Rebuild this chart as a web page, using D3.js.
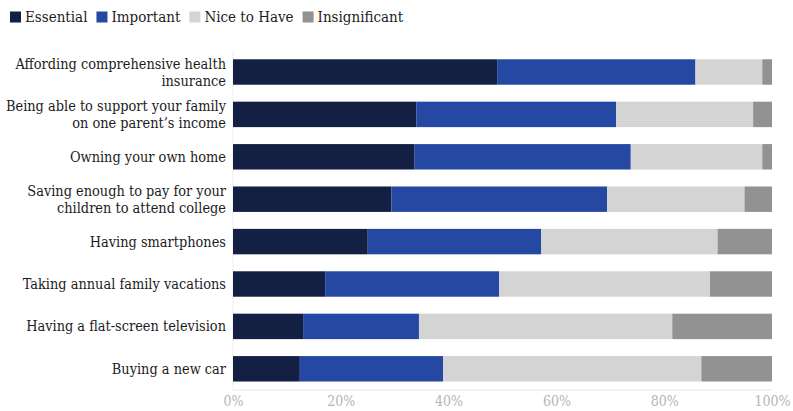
<!DOCTYPE html>
<html>
<head>
<meta charset="utf-8">
<script src="https://cdn.jsdelivr.net/npm/d3@7"></script>
<style>
  html, body { margin: 0; padding: 0; background: #ffffff; }
  svg { display: block; font-family: "DejaVu Serif Condensed", "DejaVu Serif", serif; font-stretch: condensed; }
</style>
</head>
<body>
<svg id="chart" width="793" height="411"></svg>
<script>
// Survey items, top to bottom (label lines split for wrapping)
const categories = [
  ["Affording comprehensive health", "insurance"],
  ["Being able to support your family", "on one parent\u2019s income"],
  ["Owning your own home"],
  ["Saving enough to pay for your", "children to attend college"],
  ["Having smartphones"],
  ["Taking annual family vacations"],
  ["Having a flat-screen television"],
  ["Buying a new car"]
];

const seriesNames = ["Essential", "Important", "Nice to Have", "Insignificant"];
const seriesColors = ["#132044", "#2549a3", "#d4d4d4", "#929292"];

// Share of respondents (%) per rating
const essential     = [49.0, 34.0, 33.7, 29.4, 25.0, 17.1, 13.0, 12.4];
const important     = [36.8, 37.1, 40.1, 40.0, 32.2, 32.3, 21.5, 26.6];
const niceToHave    = [12.4, 25.4, 24.4, 25.5, 32.7, 39.1, 47.0, 47.9];
const insignificant = [ 1.8,  3.5,  1.8,  5.1, 10.1, 11.5, 18.5, 13.1];

const tickValues = [0, 20, 40, 60, 80, 100];

const rows = categories.map((c, i) => ({
  key: i,
  label: c,
  "Essential": essential[i],
  "Important": important[i],
  "Nice to Have": niceToHave[i],
  "Insignificant": insignificant[i]
}));

const svg = d3.select("#chart");
const plotLeft = 233, plotRight = 772, plotTop = 50.8, plotBottom = 390;

const x = d3.scaleLinear().domain([0, 100]).range([plotLeft, plotRight]);
const y = d3.scaleBand().domain(rows.map(d => d.key)).range([plotTop, plotBottom])
  .paddingInner(0.4).paddingOuter(0.2);
const color = d3.scaleOrdinal().domain(seriesNames).range(seriesColors);

const stacked = d3.stack().keys(seriesNames)(rows);

// faint frame lines along the axis
svg.append("line")
  .attr("x1", x(0)).attr("x2", x(100))
  .attr("y1", plotBottom).attr("y2", plotBottom)
  .attr("stroke", "#e8e8e8").attr("stroke-width", 1);
svg.append("line")
  .attr("x1", x(0)).attr("x2", x(0))
  .attr("y1", plotTop).attr("y2", plotBottom)
  .attr("stroke", "#eeeeee").attr("stroke-width", 1);

// stacked bars
svg.append("g").selectAll("g")
  .data(stacked)
  .join("g")
  .attr("fill", d => color(d.key))
  .selectAll("rect")
  .data(d => d)
  .join("rect")
  .attr("x", d => x(d[0]))
  .attr("width", d => x(d[1]) - x(d[0]))
  .attr("y", d => y(d.data.key))
  .attr("height", y.bandwidth());

// x axis
const xAxis = svg.append("g")
  .attr("transform", `translate(0,${plotBottom})`)
  .call(d3.axisBottom(x).tickValues(tickValues).tickFormat(d => d + "%").tickSize(0).tickPadding(7));
xAxis.select(".domain").remove();
xAxis.selectAll("text")
  .attr("fill", "#b5b5b5")
  .attr("dy", "0.66em")
  .style("font-family", "\"DejaVu Serif Condensed\", \"DejaVu Serif\", serif")
  .style("font-size", "14px");

// category labels
const labelG = svg.append("g");
rows.forEach(d => {
  const cy = y(d.key) + y.bandwidth() / 2;
  const n = d.label.length;
  const lh = 17;
  const t = labelG.append("text")
    .attr("x", plotLeft - 7)
    .attr("text-anchor", "end")
    .attr("fill", "#1c1c1c")
    .style("font-size", "14.4px");
  d.label.forEach((line, j) => {
    t.append("tspan")
      .attr("x", plotLeft - 7)
      .attr("y", cy + (j - (n - 1) / 2) * lh)
      .attr("dy", "0.35em")
      .text(line);
  });
});

// legend
const legend = svg.append("g").attr("transform", "translate(10,17)");
let lx = 0;
seriesNames.forEach((name, i) => {
  const g = legend.append("g").attr("transform", `translate(${lx},0)`);
  g.append("rect").attr("x", 0).attr("y", -5.5).attr("width", 11).attr("height", 11)
    .attr("fill", seriesColors[i]);
  const txt = g.append("text").attr("x", 15).attr("y", 0).attr("dy", "0.35em")
    .attr("fill", "#1c1c1c").style("font-size", "15px").text(name);
  lx += 15 + txt.node().getComputedTextLength() + 9;
});
</script>
</body>
</html>
